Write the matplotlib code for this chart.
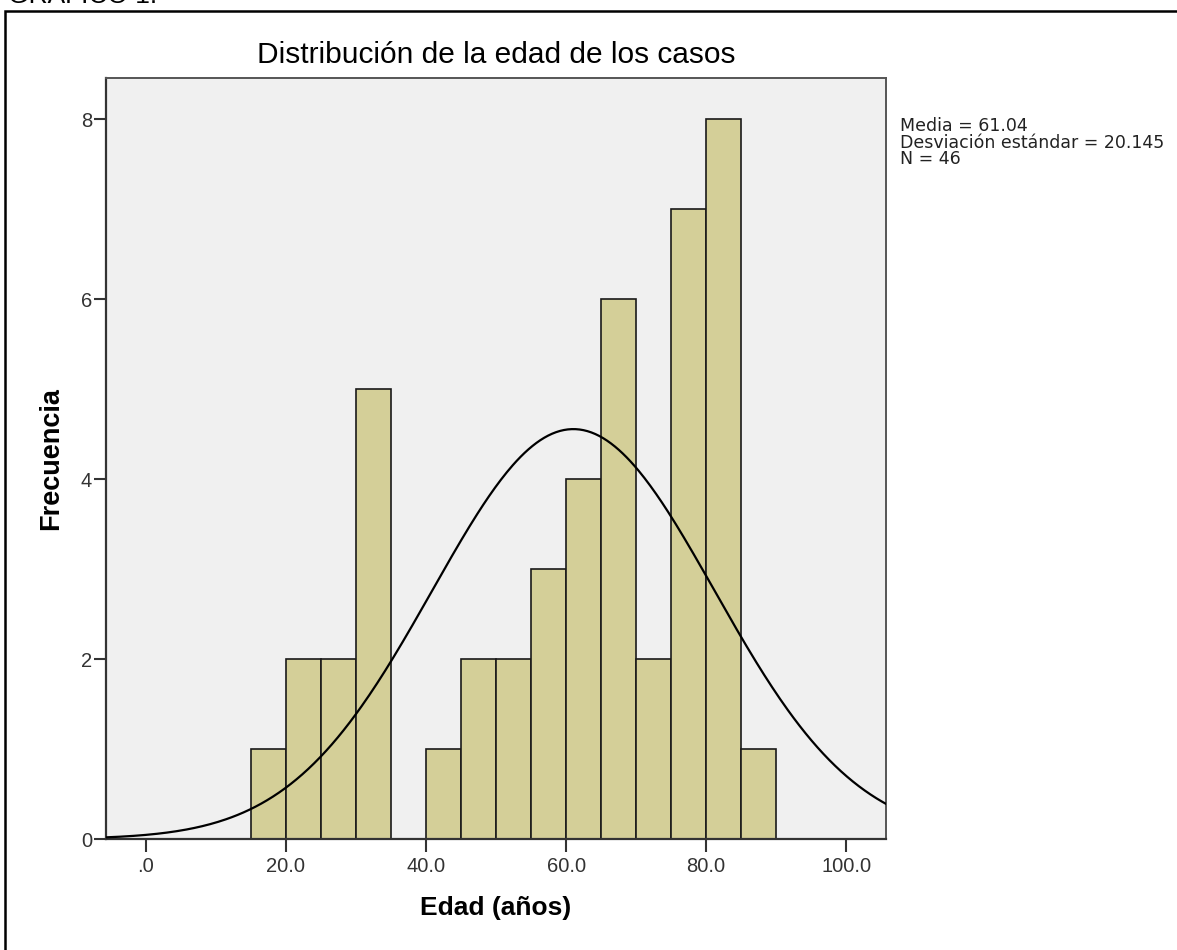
import numpy as np
import matplotlib
matplotlib.use("Agg")
from matplotlib import pyplot as plt
from matplotlib.patches import Rectangle

# histogram data (bin edges and counts)
bin_edges = [15, 20, 25, 30, 35, 40, 45, 50, 55, 60, 65, 70, 75, 80, 85, 90]
counts = [1, 2, 2, 5, 0, 1, 2, 2, 3, 4, 6, 2, 7, 8, 1]
media = 61.04
desv = 20.145
n_casos = 46
xticks = [0, 20, 40, 60, 80, 100]
xtick_labels = [".0", "20.0", "40.0", "60.0", "80.0", "100.0"]
yticks = [0, 2, 4, 6, 8]

plt.rcParams['font.family'] = ['Liberation Sans', 'DejaVu Sans']

fig = plt.figure(figsize=(11.77, 9.5), dpi=100)
ax = fig.add_axes([0.0901, 0.1168, 0.6627, 0.8011])
ax.set_facecolor("#F0F0F0")

# bars
lefts = np.array(bin_edges[:-1])
widths = np.diff(bin_edges)
ax.bar(lefts, counts, width=widths, align="edge", color="#D4CF98",
       edgecolor="#1a1a1a", linewidth=1.2, zorder=2)

# normal curve
xs = np.linspace(-6, 106, 400)
bw = widths[0]
ys = n_casos * bw / (desv * np.sqrt(2 * np.pi)) * np.exp(-0.5 * ((xs - media) / desv) ** 2)
ax.plot(xs, ys, color="black", linewidth=1.6, zorder=3)

ax.set_xlim(-5.7, 105.7)
ax.set_ylim(0, 8.456)
ax.set_xticks(xticks)
ax.set_xticklabels(xtick_labels)
ax.set_yticks(yticks)
ax.tick_params(axis="x", length=9, width=1.5, color="#333333", labelsize=14.5,
               labelcolor="#333333", pad=4)
ax.tick_params(axis="y", length=9, width=1.5, color="#333333", labelsize=14.5,
               labelcolor="#333333", pad=1)
for side in ["left", "bottom"]:
    ax.spines[side].set_color("#333333")
    ax.spines[side].set_linewidth(1.6)
for side in ["top", "right"]:
    ax.spines[side].set_color("#555555")
    ax.spines[side].set_linewidth(1.4)

ax.set_title("Distribución de la edad de los casos", fontsize=21.5, pad=11)
ax.set_xlabel("Edad (años)", fontsize=19, fontweight="bold", labelpad=14)
ax.set_ylabel("Frecuencia", fontsize=19.5, fontweight="bold", labelpad=12)

# stats box text
fig.text(900 / 1177, 1 - 117 / 950,
         "Media = %.2f\nDesviación estándar = %.3f\nN = %d" % (media, desv, n_casos),
         fontsize=12.5, family="DejaVu Sans", va="top", ha="left",
         color="#222222", linespacing=0.9)

# outer frame and cut-off caption
fig.patches.append(Rectangle((5 / 1177, -0.05), 1.1, 1.05 - 11 / 950,
                             transform=fig.transFigure, fill=False,
                             edgecolor="black", linewidth=1.8))
fig.text(8 / 1177, 1 - 3 / 950, "GRÁFICO 1.", fontsize=19, ha="left", va="baseline")

fig.savefig("out.png", dpi=100)
